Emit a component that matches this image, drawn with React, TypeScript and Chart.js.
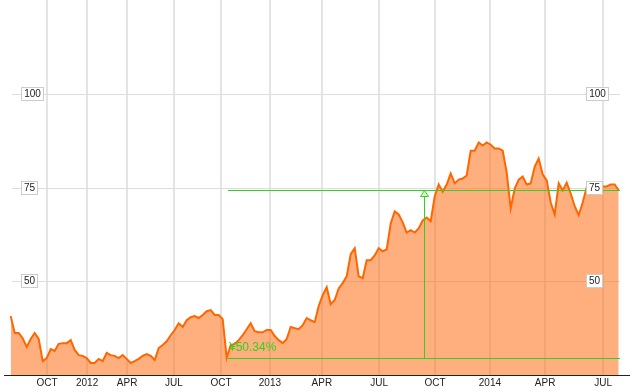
import React, { useEffect, useRef } from 'react';
import { Chart, registerables } from 'chart.js';

Chart.register(...registerables);

// Weekly closing prices (Aug 2011 – Jul 2014)
const prices: number[] = [
  40.7, 36.2, 36.2, 34.8, 32.5, 34.6, 36.2, 34.6, 28.7, 29.5,
  31.9, 31.4, 33.3, 33.5, 33.5, 34.3, 31.7, 30.3, 30.1, 29.5,
  28.2, 28.2, 29.3, 28.7, 30.9, 30.3, 30.1, 29.5, 30.3, 29.3,
  28.2, 28.7, 29.3, 30.1, 30.6, 30.1, 29.0, 32.2, 33.0, 34.0,
  35.6, 37.0, 38.8, 37.8, 39.6, 40.4, 40.7, 40.2, 41.0, 42.0,
  42.3, 41.0, 41.0, 39.9, 29.6, 33.0, 33.3, 34.3, 35.6, 37.2,
  38.8, 36.7, 36.4, 36.4, 37.0, 37.0, 35.4, 34.3, 33.5, 34.6,
  37.8, 37.5, 37.2, 38.3, 40.2, 39.6, 39.1, 43.4, 46.3, 48.4,
  43.9, 45.0, 48.1, 49.5, 51.3, 57.2, 58.8, 51.3, 50.8, 55.6,
  55.6, 56.9, 58.8, 58.0, 58.5, 65.4, 68.6, 67.8, 65.7, 63.0,
  63.6, 63.0, 64.1, 66.2, 67.0, 66.0, 72.6, 75.8, 73.9, 75.8,
  78.7, 76.1, 77.1, 77.4, 78.2, 84.8, 84.8, 87.0, 86.2, 87.0,
  86.4, 85.4, 85.4, 84.8, 79.0, 69.4, 74.7, 77.1, 77.9, 75.8,
  76.1, 80.6, 82.7, 78.5, 76.9, 71.0, 67.8, 76.1, 74.2, 76.3,
  73.4, 70.0, 67.6, 71.0, 75.0, 75.5, 75.3, 75.3, 75.3, 75.3,
  75.8, 75.8, 74.2,
];

// Month tick positions (in weeks from the first point) and their labels
const tickWeeks: number[] = [9.1, 19.1, 29.1, 40.8, 52.6, 64.8, 77.8, 92.1, 106.1, 119.8, 133.6, 148.1];
const tickLabels: string[] = ['OCT', '2012', 'APR', 'JUL', 'OCT', '2013', 'APR', 'JUL', 'OCT', '2014', 'APR', 'JUL'];

const yTickValues: number[] = [50, 75, 100];
const yMin = 25;
const yMax = 125;
const xMin = -1.675;
const xMax = 154.825;

// Change annotation
const changeLabel = '¥50.34%';
const lowIndex = 54.3;
const lowValue = 29.5;
const highValue = 74.4;
const markerIndex = 103.3;
const endIndex = 152.3;

export default function App() {
  const ref = useRef<HTMLCanvasElement>(null);

  useEffect(() => {
    const canvas = ref.current;
    if (!canvas) return;
    const green = '#33d11f';
    const labelFont = '10px "Liberation Sans", Arial, sans-serif';

    const drawBox = (ctx: CanvasRenderingContext2D, left: number, cy: number, text: string) => {
      const w = Math.round(ctx.measureText(text).width) + 6;
      const h = 14;
      const top = cy - 7;
      ctx.fillStyle = '#ffffff';
      ctx.fillRect(left, top, w, h);
      ctx.strokeStyle = '#cccccc';
      ctx.lineWidth = 1;
      ctx.strokeRect(left + 0.5, top + 0.5, w - 1, h - 1);
      ctx.fillStyle = '#222222';
      ctx.textAlign = 'center';
      ctx.textBaseline = 'middle';
      ctx.fillText(text, left + w / 2, cy + 0.5);
    };

    const overlay = {
      id: 'overlay',
      beforeDatasetsDraw(chart: any) {
        const { ctx, chartArea, scales } = chart;
        const y = scales.y;
        ctx.save();
        ctx.strokeStyle = '#dddddd';
        ctx.lineWidth = 1;
        for (const v of yTickValues) {
          const py = Math.round(y.getPixelForValue(v)) + 0.5;
          ctx.beginPath();
          ctx.moveTo(chartArea.left + 8, py);
          ctx.lineTo(chartArea.right - 10, py);
          ctx.stroke();
        }
        ctx.restore();
      },
      afterDatasetsDraw(chart: any) {
        const { ctx, chartArea, scales } = chart;
        const x = scales.x;
        const y = scales.y;
        ctx.save();
        const x0 = Math.round(x.getPixelForValue(lowIndex));
        const x1 = Math.round(x.getPixelForValue(endIndex));
        const xm = Math.round(x.getPixelForValue(markerIndex)) + 0.5;
        const yl = Math.round(y.getPixelForValue(lowValue)) + 0.5;
        const yh = Math.round(y.getPixelForValue(highValue)) + 0.5;
        ctx.strokeStyle = green;
        ctx.lineWidth = 1;
        ctx.beginPath();
        ctx.moveTo(x0, yh);
        ctx.lineTo(x1, yh);
        ctx.stroke();
        ctx.beginPath();
        ctx.moveTo(x0, yl);
        ctx.lineTo(x1, yl);
        ctx.stroke();
        ctx.beginPath();
        ctx.moveTo(xm, yh);
        ctx.lineTo(xm, yl);
        ctx.stroke();
        ctx.beginPath();
        ctx.moveTo(xm, yh);
        ctx.lineTo(xm - 4, yh + 6);
        ctx.lineTo(xm + 4, yh + 6);
        ctx.closePath();
        ctx.fillStyle = 'rgba(225,255,215,0.95)';
        ctx.fill();
        ctx.stroke();

        ctx.fillStyle = green;
        ctx.font = '12px "Liberation Sans", Arial, sans-serif';
        ctx.textAlign = 'left';
        ctx.textBaseline = 'middle';
        ctx.fillText(changeLabel, x0 + 1, yl - 10.5);

        ctx.font = labelFont;
        for (const v of yTickValues) {
          const py = Math.round(y.getPixelForValue(v));
          drawBox(ctx, chartArea.left + 17, py, String(v));
          drawBox(ctx, chartArea.right - 44, py, String(v));
        }
        ctx.restore();
      },
    };

    const chart = new Chart(canvas, {
      type: 'line',
      data: {
        datasets: [
          {
            data: prices.map((v, i) => ({ x: i, y: v })),
            borderColor: '#ff6600',
            borderWidth: 2,
            backgroundColor: 'rgba(255,110,20,0.55)',
            fill: 'start',
            pointRadius: 0,
            tension: 0,
          },
        ],
      },
      options: {
        responsive: false,
        animation: false,
        events: [],
        layout: { padding: { left: 4, right: 0, top: 0, bottom: 0 } },
        plugins: { legend: { display: false }, tooltip: { enabled: false } },
        scales: {
          x: {
            type: 'linear',
            min: xMin,
            max: xMax,
            afterBuildTicks: (axis: any) => {
              axis.ticks = tickWeeks.map((v) => ({ value: v }));
            },
            ticks: {
              autoSkip: false,
              maxRotation: 0,
              padding: 3,
              color: '#222222',
              font: { family: '"Liberation Sans", Arial, sans-serif', size: 10, lineHeight: 1.1 },
              callback: (_v: any, i: number) => tickLabels[i],
            },
            grid: { color: '#e4e4e4', lineWidth: 2, drawTicks: false },
            border: { display: true, color: '#222222', width: 1 },
          },
          y: {
            type: 'linear',
            display: false,
            min: yMin,
            max: yMax,
          },
        },
      },
      plugins: [overlay],
    } as any);

    return () => chart.destroy();
  }, []);

  return (
    <div style={{ position: 'fixed', left: 0, top: 0, width: 630, height: 392, background: '#fff' }}>
      <canvas ref={ref} width={630} height={392} style={{ display: 'block' }} />
    </div>
  );
}
